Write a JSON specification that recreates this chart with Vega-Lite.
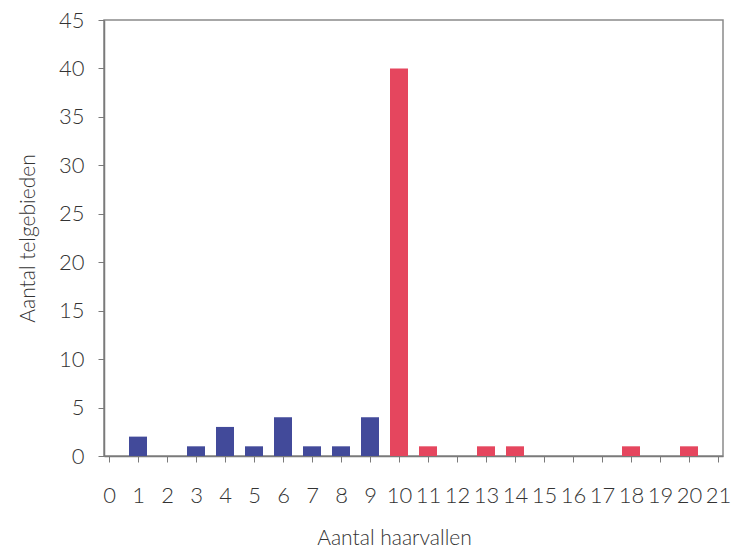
{
  "$schema": "https://vega.github.io/schema/vega-lite/v6.json",
  "width": 619,
  "height": 436,
  "autosize": "none",
  "padding": {"left": 104, "top": 20, "right": 16, "bottom": 97},
  "background": "white",
  "config": {
    "font": "Lato",
    "view": {"stroke": "#8a8a8a", "strokeWidth": 1.5},
    "axis": {
      "labelFont": "Lato",
      "titleFont": "Lato",
      "labelFontWeight": 300,
      "titleFontWeight": 300,
      "labelColor": "#333333",
      "titleColor": "#333333",
      "domainColor": "#7a7a7a",
      "domainWidth": 1.5,
      "tickColor": "#7a7a7a",
      "grid": false
    }
  },
  "data": {
    "values": [
      {"haarvallen": 1, "telgebieden": 2, "groep": "laag"},
      {"haarvallen": 3, "telgebieden": 1, "groep": "laag"},
      {"haarvallen": 4, "telgebieden": 3, "groep": "laag"},
      {"haarvallen": 5, "telgebieden": 1, "groep": "laag"},
      {"haarvallen": 6, "telgebieden": 4, "groep": "laag"},
      {"haarvallen": 7, "telgebieden": 1, "groep": "laag"},
      {"haarvallen": 8, "telgebieden": 1, "groep": "laag"},
      {"haarvallen": 9, "telgebieden": 4, "groep": "laag"},
      {"haarvallen": 10, "telgebieden": 40, "groep": "hoog"},
      {"haarvallen": 11, "telgebieden": 1, "groep": "hoog"},
      {"haarvallen": 13, "telgebieden": 1, "groep": "hoog"},
      {"haarvallen": 14, "telgebieden": 1, "groep": "hoog"},
      {"haarvallen": 18, "telgebieden": 1, "groep": "hoog"},
      {"haarvallen": 20, "telgebieden": 1, "groep": "hoog"}
    ]
  },
  "mark": {"type": "bar", "size": 18},
  "encoding": {
    "x": {
      "field": "haarvallen",
      "type": "quantitative",
      "scale": {"domain": [0, 21], "nice": false, "zero": true},
      "axis": {
        "title": "Aantal haarvallen",
        "values": [0,1,2,3,4,5,6,7,8,9,10,11,12,13,14,15,16,17,18,19,20,21],
        "format": "d",
        "labelFontSize": 22,
        "labelPadding": 23,
        "labelFlush": false,
        "labelOverlap": false,
        "tickSize": 6,
        "titleFontSize": 21,
        "titlePadding": 21,
        "titleX": 290
      }
    },
    "y": {
      "field": "telgebieden",
      "type": "quantitative",
      "scale": {"domain": [0, 45], "nice": false},
      "axis": {
        "title": "Aantal telgebieden",
        "values": [0,5,10,15,20,25,30,35,40,45],
        "labelFontSize": 22,
        "labelPadding": 14,
        "tickSize": 6,
        "titleFontSize": 21,
        "titlePadding": 20
      }
    },
    "color": {
      "field": "groep",
      "type": "nominal",
      "scale": {"domain": ["laag", "hoog"], "range": ["#424a9a", "#e5465e"]},
      "legend": null
    }
  }
}
